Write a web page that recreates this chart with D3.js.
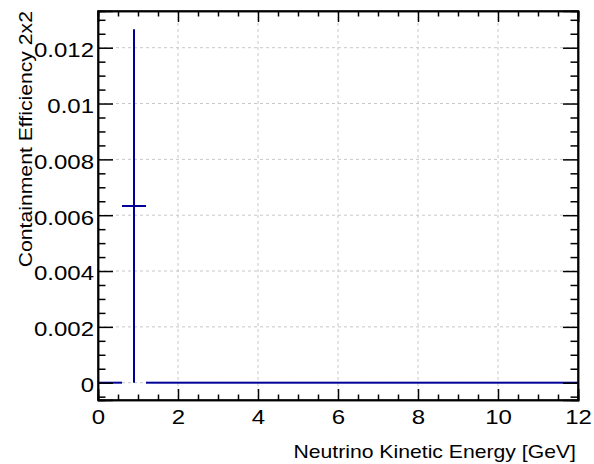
<!DOCTYPE html>
<html>
<head>
<meta charset="utf-8">
<script src="https://cdn.jsdelivr.net/npm/d3@7"></script>
<style>
  body { margin: 0; background: #fff; }
  svg { display: block; font-family: "Liberation Sans", Arial, Helvetica, sans-serif; }
  .tick text { font-size: 24px; fill: #000; }
  .axis path, .axis line { stroke: #000; stroke-width: 1.5; }
  .grid line { stroke: #c8c8c8; stroke-width: 1; stroke-dasharray: 3,3; }
  .label { font-size: 21.2px; fill: #000; }
</style>
</head>
<body>
<div id="container"></div>
<script>
// Histogram bin edges (GeV), contents and errors
const binEdges = [0, 0.6, 1.2, 1.8, 2.4, 3.0, 3.6, 4.2, 4.8, 5.4, 6.0,
                  6.6, 7.2, 7.8, 8.4, 9.0, 9.6, 10.2, 10.8, 11.4, 12.0];
const binValues = [0, 0.00633, 0, 0, 0, 0, 0, 0, 0, 0,
                   0, 0, 0, 0, 0, 0, 0, 0, 0, 0];
const binErrors = [0, 0.00633, 0, 0, 0, 0, 0, 0, 0, 0,
                   0, 0, 0, 0, 0, 0, 0, 0, 0, 0];

// Axis ticks
const xMajor = [0, 2, 4, 6, 8, 10, 12];
const xMinor = [0.5, 1, 1.5, 2.5, 3, 3.5, 4.5, 5, 5.5, 6.5, 7, 7.5, 8.5, 9, 9.5, 10.5, 11, 11.5];
const yMajor = [0, 0.002, 0.004, 0.006, 0.008, 0.01, 0.012];
const yMinor = [-0.0005, 0.0005, 0.001, 0.0015, 0.0025, 0.003, 0.0035, 0.0045, 0.005, 0.0055,
                0.0065, 0.007, 0.0075, 0.0085, 0.009, 0.0095, 0.0105, 0.011, 0.0115, 0.0125, 0.013];
const yLabels = ['0', '0.002', '0.004', '0.006', '0.008', '0.01', '0.012'];

const W = 594, H = 464;
const padL = 98, padR = 578, padT = 11, padB = 400;
const lineColor = '#000099';
const squash = 'scale(1,0.88)'; // the ROOT font is lower than Arial for the same width

const svg = d3.select('#container').append('svg')
  .attr('width', W).attr('height', H);

const x = d3.scaleLinear().domain([0, 12]).range([padL, padR]);
const y = d3.scaleLinear().domain([-0.00062, 0.013315]).range([padB, padT]);

// Grid lines
const grid = svg.append('g').attr('class', 'grid');
grid.selectAll('.gx')
  .data(xMajor.filter(d => d > 0 && d < 12))
  .enter().append('line')
  .attr('x1', d => x(d)).attr('x2', d => x(d))
  .attr('y1', padT).attr('y2', padB);
grid.selectAll('.gy')
  .data(yMajor)
  .enter().append('line')
  .attr('x1', padL).attr('x2', padR)
  .attr('y1', d => y(d)).attr('y2', d => y(d));

// Histogram with error bars
const bins = binValues.map((v, i) => ({
  lo: binEdges[i], hi: binEdges[i + 1], v: v, e: binErrors[i]
}));
const hist = svg.append('g');
hist.selectAll('.hbar')
  .data(bins)
  .enter().append('line')
  .attr('x1', d => x(d.lo)).attr('x2', d => x(d.hi))
  .attr('y1', d => y(d.v)).attr('y2', d => y(d.v))
  .attr('stroke', lineColor).attr('stroke-width', 2);
hist.selectAll('.vbar')
  .data(bins.filter(d => d.e > 0))
  .enter().append('line')
  .attr('x1', d => x((d.lo + d.hi) / 2)).attr('x2', d => x((d.lo + d.hi) / 2))
  .attr('y1', d => y(d.v - d.e)).attr('y2', d => y(d.v + d.e))
  .attr('stroke', lineColor).attr('stroke-width', 2);

// Axes (ROOT style: ticks inside the frame)
svg.append('g').attr('class', 'axis')
  .attr('transform', `translate(0,${padB})`)
  .call(d3.axisBottom(x).tickValues(xMajor).tickSize(-11).tickPadding(10).tickFormat(d3.format('d')))
  .selectAll('text').attr('transform', squash);
svg.append('g').attr('class', 'axis')
  .attr('transform', `translate(0,${padB})`)
  .call(d3.axisBottom(x).tickValues(xMinor).tickSize(-5.5).tickFormat(''));
svg.append('g').attr('class', 'axis')
  .attr('transform', `translate(0,${padT})`)
  .call(d3.axisTop(x).tickValues(xMajor).tickSize(-11).tickFormat(''));
svg.append('g').attr('class', 'axis')
  .attr('transform', `translate(0,${padT})`)
  .call(d3.axisTop(x).tickValues(xMinor).tickSize(-5.5).tickFormat(''));

svg.append('g').attr('class', 'axis')
  .attr('transform', `translate(${padL},0)`)
  .call(d3.axisLeft(y).tickValues(yMajor).tickSize(-15).tickPadding(4)
    .tickFormat((d, i) => yLabels[i]))
  .selectAll('text').attr('dy', '0.42em').attr('transform', squash);
svg.append('g').attr('class', 'axis')
  .attr('transform', `translate(${padL},0)`)
  .call(d3.axisLeft(y).tickValues(yMinor).tickSize(-7.5).tickFormat(''));
svg.append('g').attr('class', 'axis')
  .attr('transform', `translate(${padR},0)`)
  .call(d3.axisRight(y).tickValues(yMajor).tickSize(-15).tickFormat(''));
svg.append('g').attr('class', 'axis')
  .attr('transform', `translate(${padR},0)`)
  .call(d3.axisRight(y).tickValues(yMinor).tickSize(-7.5).tickFormat(''));

// Frame
svg.append('rect')
  .attr('x', padL).attr('y', padT)
  .attr('width', padR - padL).attr('height', padB - padT)
  .attr('fill', 'none').attr('stroke', '#000').attr('stroke-width', 1.5);

// Axis titles
svg.append('text')
  .attr('class', 'label')
  .attr('transform', `translate(576,458) ${squash}`)
  .attr('text-anchor', 'end')
  .text('Neutrino Kinetic Energy [GeV]');

svg.append('text')
  .attr('class', 'label')
  .attr('transform', `translate(32,11) rotate(-90) ${squash}`)
  .attr('text-anchor', 'end')
  .text('Containment Efficiency 2x2');
</script>
</body>
</html>
